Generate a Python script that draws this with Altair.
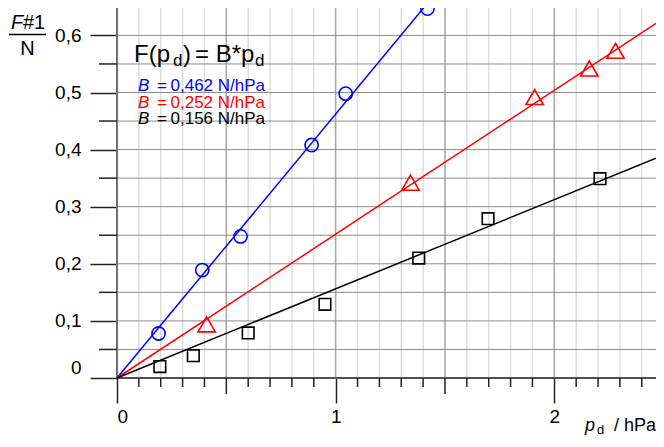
import altair as alt
import pandas as pd

# ---- data ----
blue_x = [0.19, 0.39, 0.565, 0.89, 1.046, 1.42]
blue_y = [0.078, 0.189, 0.248, 0.408, 0.498, 0.647]
red_x = [0.41, 1.342, 1.91, 2.16, 2.28]
red_y = [0.094, 0.342, 0.492, 0.542, 0.573]
black_x = [0.196, 0.349, 0.60, 0.951, 1.38, 1.697, 2.209]
black_y = [0.02, 0.039, 0.079, 0.129, 0.21, 0.279, 0.349]

# fitted lines F = B * p_d (end points)
blue_line_x = [0.0, 1.417]
blue_line_y = [0.0, 0.655]
red_line_x = [0.0, 2.465]
red_line_y = [0.0, 0.621]
black_line_x = [0.0, 2.465]
black_line_y = [0.0, 0.385]

legend_lines = ["0,462 N/hPa", "0,252 N/hPa", "0,156 N/hPa"]
legend_colors = ["#0000ff", "#ff0000", "#000000"]

# axis / grid positions
x_labeled = [0, 1, 2]
x_half = [0.5, 1.5]
x_minor = [round(i / 10, 1) for i in range(1, 25) if i % 5 != 0]
y_labeled = [0, 0.1, 0.2, 0.3, 0.4, 0.5, 0.6]
y_half = [0.05, 0.15, 0.25, 0.35, 0.45, 0.55]
y_grid = [0.05, 0.1, 0.15, 0.2, 0.25, 0.3, 0.35, 0.4, 0.45, 0.5, 0.55, 0.6, 0.65]

FONT = "Liberation Sans"
X_MAX, Y_MAX = 2.465, 0.655
W, H = 539, 374

xs = alt.Scale(domain=[0, X_MAX], nice=False, zero=False)
ys = alt.Scale(domain=[0, Y_MAX], nice=False, zero=False)

AX = alt.Axis(
    values=x_labeled, format="d", tickSize=25, tickColor="#222222", tickWidth=1.5,
    domain=False, grid=False, labelFont=FONT, labelFontSize=19, labelColor="black",
    labelPadding=4, title=None)
AY = alt.Axis(
    values=y_labeled, tickSize=27, tickColor="#222222", tickWidth=1.5,
    domain=False, grid=False, labelFont=FONT, labelFontSize=19, labelColor="black",
    labelPadding=9, title=None,
    labelExpr="datum.value == 0 ? '' : replace(format(datum.value, '.1f'), '.', ',')")


def X(f="x"):
    return alt.X(f"{f}:Q", scale=xs, axis=AX)


def Y(f="y"):
    return alt.Y(f"{f}:Q", scale=ys, axis=AY)


# grid
vminor = alt.Chart(pd.DataFrame({"x": x_minor})).mark_rule(color="#dddddd", strokeWidth=1.5).encode(x=X())
vmajor = alt.Chart(pd.DataFrame({"x": [0.5, 1, 1.5, 2]})).mark_rule(color="#a6a6a6", strokeWidth=1.5).encode(x=X())
hgrid = alt.Chart(pd.DataFrame({"y": y_grid})).mark_rule(color="#8c8c8c", strokeWidth=1).encode(y=Y())

# axis lines
yaxis_line = alt.Chart(pd.DataFrame({"x": [0]})).mark_rule(color="#707070", strokeWidth=2).encode(
    x=X(), y=alt.value(0), y2=alt.value(H))
xaxis_line = alt.Chart(pd.DataFrame({"y": [0]})).mark_rule(color="#505050", strokeWidth=2).encode(
    y=Y(), x=alt.value(0), x2=alt.value(W))

# extra (unlabelled) ticks
xt_minor = alt.Chart(pd.DataFrame({"x": x_minor})).mark_rule(color="#222222", strokeWidth=1.5).encode(
    x=X(), y=alt.value(H), y2=alt.value(H + 9))
xt_half = alt.Chart(pd.DataFrame({"x": x_half})).mark_rule(color="#222222", strokeWidth=1.5).encode(
    x=X(), y=alt.value(H), y2=alt.value(H + 16))
yt_half = alt.Chart(pd.DataFrame({"y": y_half})).mark_rule(color="#222222", strokeWidth=1.5).encode(
    y=Y(), x=alt.value(-18), x2=alt.value(0))


def line(xv, yv, color):
    return alt.Chart(pd.DataFrame({"x": xv, "y": yv})).mark_line(color=color, strokeWidth=1.5).encode(
        x=X(), y=Y())


def pts(xv, yv, color, shape, size):
    return alt.Chart(pd.DataFrame({"x": xv, "y": yv})).mark_point(
        shape=shape, size=size, color=color, filled=False, strokeWidth=1.6, opacity=1).encode(x=X(), y=Y())


TOP = 4  # page y of the plot top


def txt(s, px, py, size, color="black", italic=False, align="left"):
    return alt.Chart(pd.DataFrame({"t": [s]})).mark_text(
        font=FONT, fontSize=size, color=color, align=align, baseline="alphabetic",
        fontStyle="italic" if italic else "normal").encode(
        text="t:N", x=alt.value(px - 117), y=alt.value(py - TOP))


texts = [
    # zero label of the y axis (raised above the x axis)
    txt("0", 81.5, 373.5, 19, align="right"),
    # y title
    txt("F", 11, 29, 20, italic=True),
    txt("#1", 23, 29, 20),
    txt("N", 27.5, 55, 20, align="center"),
    # x title
    txt("p", 585, 431, 18, italic=True),
    txt("d", 597, 434, 13),
    txt("/ hPa", 656, 431, 18, align="right"),
    # legend equation
    txt("F(p", 134, 62, 24),
    txt("d", 173, 66, 17),
    txt(")", 183, 62, 24),
    txt("= B*p", 195, 62, 24),
    txt("d", 255, 66, 17),
]
for i, (s, c) in enumerate(zip(legend_lines, legend_colors)):
    yb = 91 + 16.5 * i
    texts.append(txt("B", 138, yb, 17, color=c, italic=True))
    texts.append(txt("=", 157, yb, 17, color=c))
    texts.append(txt(s, 170.5, yb, 17, color=c))

frac = alt.Chart(pd.DataFrame({"a": [0]})).mark_rule(color="black", strokeWidth=1.5).encode(
    x=alt.value(9 - 117), x2=alt.value(46 - 117), y=alt.value(34.5 - TOP))

chart = alt.layer(
    vminor, vmajor, hgrid, yaxis_line, xaxis_line, xt_minor, xt_half, yt_half,
    line(blue_line_x, blue_line_y, "#0000ff"),
    line(red_line_x, red_line_y, "#ff0000"),
    line(black_line_x, black_line_y, "#000000"),
    pts(blue_x, blue_y, "#0000ff", "circle", 175),
    pts(red_x, red_y, "#ff0000", "triangle-up", 300),
    pts(black_x, black_y, "#000000", "square", 135),
    frac, *texts,
).properties(
    width=W, height=H,
    autosize=alt.AutoSizeParams(type="none"),
    padding={"left": 109, "top": -4, "right": 0, "bottom": 59},
).configure_view(stroke=None).configure(background="white")

chart.save("out.html", embed_options={"renderer": "svg", "actions": False})
